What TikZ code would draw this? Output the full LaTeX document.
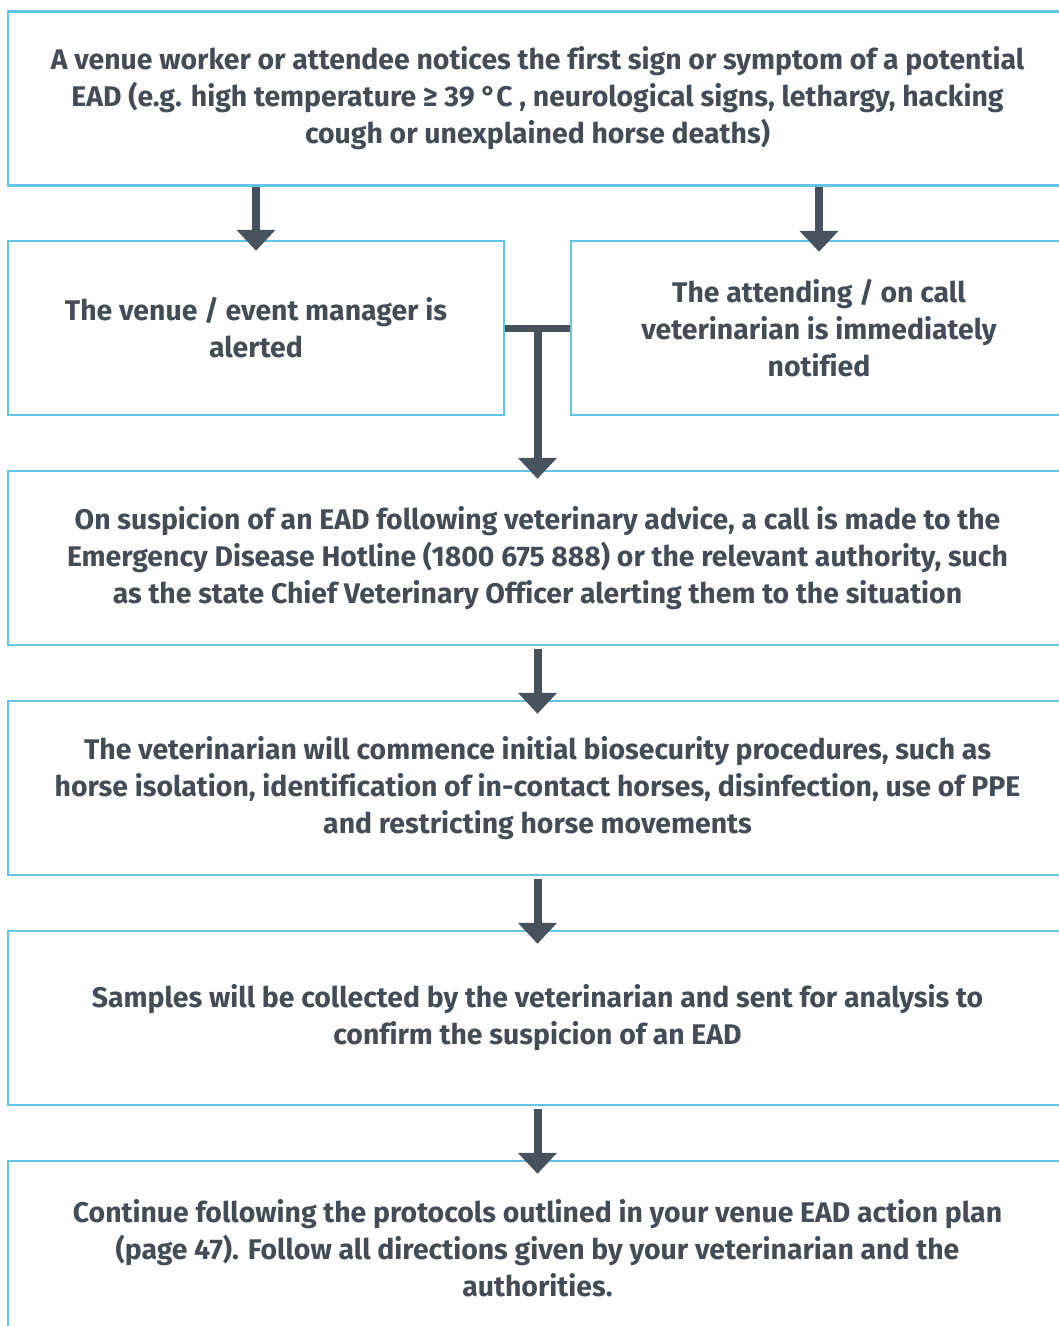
\documentclass[tikz,border=0pt]{standalone}
\usepackage{fontspec}
\setmainfont{Fira Sans}[Ligatures=NoCommon]
\usetikzlibrary{arrows.meta,calc}
\definecolor{boxline}{HTML}{64C4E5}
\definecolor{txt}{HTML}{434C57}
\definecolor{arrcol}{HTML}{48525D}
\begin{document}
\begin{tikzpicture}[x=1pt,y=-1pt,
  stepbox/.style={draw=boxline,line width=2.5pt,rectangle,minimum height=174pt,
    align=center,text=txt,font=\fontsize{28.4}{37}\selectfont\bfseries,inner sep=0pt},
  wide/.style={stepbox,minimum width=1059pt},
  half/.style={stepbox,minimum width=496pt},
  arr/.style={draw=arrcol,line width=8pt,-{Triangle[width=38pt,length=21pt]},fill=arrcol},
  bar/.style={draw=arrcol,line width=7pt}]
\useasboundingbox (0,0) rectangle (1059,1326);
\clip (0,0) rectangle (1059,1326);
\node[wide] (b1) at (537.5,98.5) {A venue worker or attendee notices the first sign or symptom of a potential\\EAD (e.g. high temperature ≥ 39 °C , neurological signs, lethargy, hacking\\cough or unexplained horse deaths)};
\node[half] (b2) at (256,328) {The venue / event manager is\\alerted};
\node[half] (b3) at (819,328) {The attending / on call\\veterinarian is immediately\\notified};
\node[wide] (b4) at (537.5,558) {On suspicion of an EAD following veterinary advice, a call is made to the\\Emergency Disease Hotline (1800 675 888) or the relevant authority, such\\as the state Chief Veterinary Officer alerting them to the situation};
\node[wide] (b5) at (537.5,788) {The veterinarian will commence initial biosecurity procedures, such as\\horse isolation, identification of in-contact horses, disinfection, use of PPE\\and restricting horse movements};
\node[wide] (b6) at (537.5,1018) {Samples will be collected by the veterinarian and sent for analysis to\\confirm the suspicion of an EAD};
\node[wide] (b7) at (537.5,1248) {Continue following the protocols outlined in your venue EAD action plan\\(page 47). Follow all directions given by your veterinarian and the\\authorities.};
\draw[arr] (b1.south -| b2.north) -- ([yshift=-11pt]b2.north);
\draw[arr] (b1.south -| b3.north) -- ([yshift=-12pt]b3.north);
\draw[bar] (b2.east) -- (b3.west);
\coordinate (j) at ($(b2.east)!0.5!(b3.west)$);
\draw[arr] ([yshift=3.5pt]j) -- ([yshift=-9pt]j |- b4.north);
\draw[arr] ([yshift=-3pt]b4.south) -- ([yshift=-14pt]b5.north);
\draw[arr] ([yshift=-3pt]b5.south) -- ([yshift=-14pt]b6.north);
\draw[arr] ([yshift=-3pt]b6.south) -- ([yshift=-14pt]b7.north);
\end{tikzpicture}
\end{document}
